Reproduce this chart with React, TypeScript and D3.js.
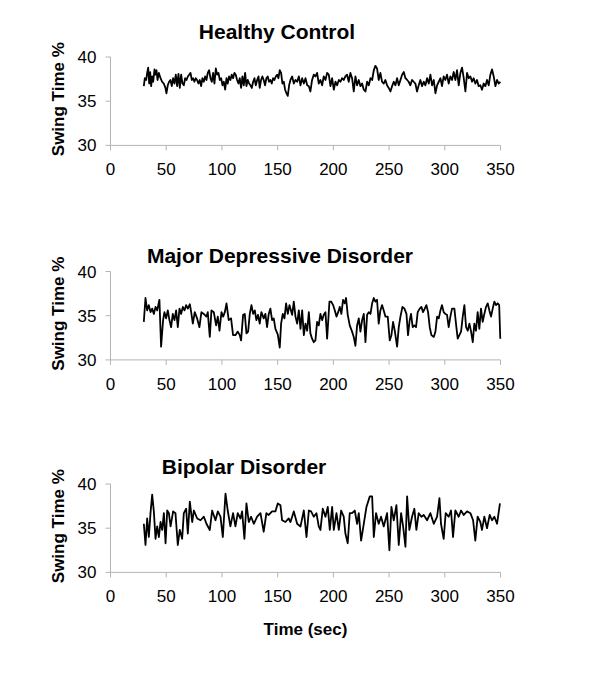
import React from "react";
import * as d3 from "d3";

// ---- data: [time (sec), swing time %] ----
const healthy: [number, number][] = [
  [29.9,36.7],[30.8,37.6],[32.0,37.4],[32.9,38.2],[33.8,38.8],[34.7,37.0],[35.6,38.3],[36.5,36.7],[37.4,37.8],[38.3,37.2],
  [39.5,38.6],[40.4,38.0],[41.3,38.5],[42.2,37.4],[43.4,38.2],[44.9,37.6],[46.3,37.2],[47.8,37.0],[49.3,36.5],[50.2,35.9],
  [51.4,36.8],[52.6,37.2],[53.8,37.4],[55.0,36.7],[56.2,37.6],[57.4,37.0],[58.6,38.0],[59.8,36.7],[61.0,38.1],[62.2,36.5],
  [63.4,38.0],[64.6,37.0],[65.8,36.8],[67.0,37.6],[68.2,37.4],[69.4,37.8],[70.6,38.0],[71.8,38.2],[73.0,37.4],[74.1,37.6],
  [75.3,37.2],[76.5,37.6],[77.7,37.4],[78.9,37.0],[80.1,37.4],[81.3,36.7],[82.5,37.6],[83.7,37.2],[84.9,37.8],[86.1,37.4],
  [87.3,38.2],[88.5,38.5],[89.7,37.6],[90.9,37.2],[92.1,38.2],[93.3,37.0],[94.5,38.7],[95.7,38.0],[96.9,38.2],[98.1,37.4],
  [99.3,37.6],[100.5,36.8],[101.7,37.2],[102.9,36.3],[104.1,37.6],[105.2,37.0],[106.4,37.8],[107.6,37.4],[108.8,38.0],[110.0,37.6],
  [111.2,38.2],[112.4,38.0],[113.6,37.4],[114.8,37.0],[116.0,37.6],[117.2,36.5],[118.4,37.8],[119.6,36.8],[120.8,38.2],[122.0,36.7],
  [123.2,37.4],[124.4,37.0],[125.6,36.8],[126.8,36.5],[128.0,37.2],[129.2,37.6],[130.4,36.8],[131.6,37.4],[132.8,37.8],[133.9,36.5],
  [135.1,37.4],[136.3,37.8],[137.5,37.4],[138.7,36.8],[139.9,37.6],[141.1,37.8],[142.3,37.2],[143.5,37.4],[144.7,37.0],[145.9,37.6],
  [147.1,37.4],[148.3,37.8],[149.5,38.0],[150.7,37.6],[151.9,38.5],[153.1,38.2],[154.3,37.0],[155.5,37.2],[156.7,36.3],[157.9,35.9],
  [159.1,35.6],[160.3,36.8],[161.5,37.4],[163.0,37.8],[164.5,37.0],[166.0,37.4],[167.5,37.2],[169.0,37.8],[170.5,36.8],[172.0,37.6],
  [173.5,37.0],[175.0,37.6],[176.5,36.8],[178.0,36.7],[179.4,36.1],[180.9,37.4],[182.4,38.0],[183.9,37.8],[185.4,38.2],[186.9,37.0],
  [188.4,37.4],[189.9,36.8],[191.4,37.8],[192.9,37.4],[194.4,38.2],[195.9,38.0],[197.4,36.7],[198.9,37.6],[200.4,36.3],[201.9,37.2],
  [203.4,36.8],[204.9,37.4],[206.4,37.2],[207.8,37.6],[209.3,37.4],[210.8,37.8],[212.3,38.0],[213.8,37.2],[215.3,38.2],[216.8,37.6],
  [218.3,36.1],[219.8,37.8],[221.3,36.8],[222.8,37.4],[224.3,36.7],[225.8,37.0],[227.3,36.3],[228.8,36.1],[230.3,37.2],[231.8,36.8],
  [233.3,37.6],[234.8,37.4],[236.3,38.5],[237.7,39.0],[239.2,38.7],[240.7,37.4],[242.2,38.2],[243.7,37.2],[245.2,37.0],[246.7,37.4],
  [248.2,36.8],[249.7,36.5],[251.2,36.1],[252.7,36.7],[254.2,37.2],[255.7,36.8],[257.2,37.6],[258.7,36.8],[260.2,37.4],[261.7,38.0],
  [263.2,38.3],[264.7,37.6],[266.2,37.4],[267.6,37.2],[269.1,36.8],[270.6,37.4],[272.1,37.2],[273.6,37.0],[275.1,36.1],[276.6,36.8],
  [278.1,37.4],[279.6,36.7],[281.1,37.2],[282.6,36.8],[284.1,37.6],[285.6,37.0],[287.1,38.0],[288.6,36.8],[290.1,37.4],[291.6,35.9],
  [293.1,36.8],[294.6,37.2],[296.1,37.6],[297.5,36.7],[299.0,37.8],[300.5,37.4],[302.0,38.0],[303.5,37.0],[305.0,37.8],[306.5,37.4],
  [308.0,38.3],[309.5,37.4],[311.0,38.5],[312.5,36.8],[314.0,38.2],[315.5,38.8],[317.0,37.6],[318.5,36.1],[320.0,38.2],[321.5,37.6],
  [323.0,37.8],[324.5,37.2],[325.9,37.6],[327.4,37.0],[328.9,37.4],[330.4,36.7],[331.9,36.8],[333.4,36.3],[334.9,37.0],[336.4,36.7],
  [337.9,37.4],[339.4,36.8],[340.9,38.0],[342.4,38.6],[343.9,37.8],[345.4,36.7],[346.9,37.4],[348.4,37.0],[349.9,37.2]
];

const depressive: [number, number][] = [
  [29.9,34.3],[31.4,37.0],[32.9,35.6],[34.4,36.2],[35.9,35.4],[37.4,35.8],[38.9,35.2],[40.4,36.0],[41.9,35.6],[43.9,36.8],
  [45.4,31.5],[47.2,34.5],[48.4,35.4],[49.9,34.7],[51.4,35.6],[52.9,34.5],[54.4,33.7],[55.9,35.2],[57.4,34.5],[58.9,35.6],
  [60.4,33.7],[61.9,35.8],[63.4,35.2],[64.9,36.0],[66.4,35.6],[67.9,36.2],[69.4,35.8],[71.2,36.3],[72.4,35.4],[73.9,34.1],
  [75.6,35.4],[77.7,34.7],[79.8,33.7],[81.6,35.4],[83.7,35.2],[86.1,34.9],[87.3,35.4],[89.1,32.6],[90.6,35.6],[92.7,35.4],
  [94.8,33.9],[96.3,34.9],[97.8,33.3],[99.6,35.4],[101.1,34.9],[102.6,35.4],[104.1,36.4],[106.1,34.5],[108.2,34.7],[110.0,32.8],
  [112.1,32.8],[114.2,33.2],[116.0,32.8],[117.2,32.2],[119.0,35.1],[120.5,35.2],[122.0,33.0],[123.5,33.2],[125.0,35.2],[126.5,36.2],
  [128.0,35.2],[129.5,35.6],[130.9,34.5],[132.4,35.1],[133.9,34.1],[135.4,35.4],[137.5,34.7],[139.0,35.2],[140.5,33.7],[142.0,35.2],
  [143.5,35.8],[145.0,34.5],[146.5,34.7],[148.0,33.5],[150.1,32.9],[151.9,31.4],[153.1,34.1],[154.6,35.2],[156.1,34.7],[157.6,36.4],
  [159.1,35.2],[160.6,36.2],[163.0,35.1],[164.5,36.6],[166.0,34.9],[167.5,34.1],[169.0,35.6],[170.5,33.5],[172.0,35.6],[173.5,32.8],
  [175.0,34.1],[176.5,33.3],[178.0,35.4],[179.4,33.0],[180.9,32.4],[182.4,32.0],[183.9,32.2],[185.4,34.3],[186.9,33.9],[188.4,35.2],
  [189.9,34.5],[191.4,35.1],[192.9,35.4],[194.4,32.4],[196.5,36.6],[198.0,36.6],[199.8,36.2],[201.3,35.6],[202.8,34.9],[204.3,35.4],
  [205.8,36.0],[207.2,35.2],[208.7,36.8],[210.2,36.4],[211.4,37.0],[212.9,35.1],[214.7,33.9],[216.8,33.2],[218.3,32.6],[219.8,31.6],
  [221.3,33.9],[222.8,34.7],[224.3,33.2],[225.8,34.5],[227.3,35.2],[228.8,32.0],[230.3,35.1],[231.8,35.4],[233.3,35.2],[234.8,36.4],
  [236.3,37.0],[237.7,36.6],[239.2,36.8],[240.7,34.1],[242.2,35.6],[243.7,36.2],[245.2,35.6],[246.7,34.9],[248.8,34.9],[250.6,32.2],
  [252.1,32.8],[253.6,34.3],[255.1,33.3],[257.2,31.5],[258.7,33.7],[260.2,34.9],[262.0,36.0],[263.8,35.8],[265.6,35.2],[267.0,32.8],
  [268.5,34.5],[269.7,35.2],[271.2,33.7],[272.7,33.9],[274.2,33.7],[275.7,35.4],[277.5,35.8],[279.0,36.0],[280.5,35.4],[282.0,35.8],
  [283.5,36.2],[285.0,35.4],[286.5,33.7],[288.0,32.8],[290.1,32.6],[291.6,33.2],[293.1,34.9],[294.6,34.7],[296.1,35.6],[297.5,36.2],
  [299.0,35.4],[300.5,35.2],[302.0,35.1],[303.5,33.7],[305.0,34.9],[306.5,35.8],[308.6,35.8],[310.4,33.7],[311.6,32.4],[313.1,32.8],
  [314.6,33.2],[316.1,34.9],[317.6,36.2],[319.1,33.7],[320.6,33.3],[322.1,34.1],[323.6,33.2],[325.1,32.0],[326.5,34.1],[328.0,33.3],
  [329.5,35.4],[331.0,33.5],[332.5,35.8],[334.0,34.3],[335.5,35.2],[337.0,36.0],[338.5,36.4],[340.0,35.6],[341.5,34.9],[343.0,35.8],
  [344.5,36.6],[346.0,36.2],[347.5,36.4],[348.8,36.2],[349.8,32.4]
];

const bipolar: [number, number][] = [
  [29.9,35.5],[31.4,33.1],[32.9,36.1],[34.4,34.0],[35.9,36.7],[37.4,38.8],[38.9,36.9],[40.4,33.8],[41.9,35.2],[43.4,34.0],
  [44.9,35.7],[46.4,34.8],[47.9,36.7],[49.4,33.3],[50.9,37.0],[52.4,36.7],[53.9,35.2],[56.2,36.9],[58.3,36.7],[60.4,33.1],
  [62.2,34.8],[64.3,33.8],[65.8,36.7],[67.9,37.2],[69.4,34.4],[71.2,38.0],[73.3,35.7],[74.8,37.0],[77.8,36.1],[80.8,35.9],
  [83.8,36.3],[86.1,35.5],[89.1,34.8],[91.2,37.0],[94.2,35.9],[96.3,36.9],[98.7,36.3],[100.8,34.0],[103.2,38.9],[105.2,37.0],
  [107.6,35.2],[110.0,36.7],[112.1,35.2],[114.2,36.7],[116.6,36.1],[118.1,36.9],[120.2,33.8],[122.0,37.8],[124.1,35.7],[126.2,36.3],
  [128.6,35.5],[131.6,36.3],[134.6,36.7],[137.5,34.6],[139.9,36.7],[142.0,36.5],[145.0,36.9],[148.0,36.9],[150.1,37.8],[152.5,37.6],
  [154.0,35.9],[157.0,35.7],[159.9,36.1],[161.5,35.7],[164.5,36.9],[167.5,35.5],[170.5,35.2],[173.5,37.0],[175.9,34.0],[178.0,37.0],
  [180.0,36.9],[182.4,36.3],[184.8,36.7],[186.9,35.2],[188.4,34.8],[190.5,37.2],[192.9,36.3],[195.0,37.4],[196.8,34.8],[198.9,37.4],
  [200.4,34.8],[202.8,36.7],[204.9,34.8],[207.0,37.0],[209.3,36.3],[210.8,34.4],[212.9,33.3],[214.7,36.7],[216.8,36.7],[219.2,37.0],
  [221.3,35.5],[222.8,36.7],[224.9,33.6],[227.3,35.5],[229.7,37.4],[232.7,38.6],[234.8,38.6],[236.3,34.0],[238.3,36.7],[240.7,35.5],
  [242.8,36.3],[245.2,35.2],[248.2,36.7],[250.3,32.5],[252.1,37.4],[254.2,35.9],[256.6,37.6],[258.7,33.1],[260.8,36.7],[262.6,35.2],
  [264.7,32.9],[266.2,38.6],[268.2,34.8],[270.6,36.3],[272.7,37.2],[274.5,34.8],[276.6,36.7],[279.0,36.3],[281.1,36.5],[284.1,35.9],
  [287.1,36.7],[290.1,35.5],[293.1,36.3],[295.2,38.4],[296.6,35.5],[299.0,33.8],[300.8,36.7],[303.5,36.3],[305.6,37.0],[307.4,34.0],
  [309.5,37.0],[312.5,36.3],[314.6,37.0],[317.0,36.5],[320.0,36.9],[323.0,36.7],[325.4,35.9],[327.4,33.6],[329.5,36.3],[331.9,35.7],
  [333.4,34.8],[335.5,36.3],[337.9,35.0],[340.3,36.5],[342.4,35.9],[344.5,36.3],[346.9,35.5],[349.5,37.8]
];

const panelTitles = ["Healthy Control", "Major Depressive Disorder", "Bipolar Disorder"];
const panelSeries = [healthy, depressive, bipolar];
const xTicks = [0, 50, 100, 150, 200, 250, 300, 350];
const yTicks = [30, 35, 40];
const yLabel = "Swing Time %";
const xLabel = "Time (sec)";

// ---- layout ----
const W = 600, H = 683;
const panelTops = [57, 271.5, 484];
const panelH = 88.4;
const titlePos = [
  { x: 277, y: 39 },
  { x: 280, y: 263 },
  { x: 244, y: 474 },
];
const FONT = "'Liberation Sans', Arial, Helvetica, sans-serif";
const AXIS = "#b4b4b4";

export default function App() {
  const x = d3.scaleLinear().domain([0, 350]).range([110.5, 500.5]);
  return (
    <svg width={W} height={H} style={{ position: "absolute", left: 0, top: 0, background: "#fff" }} fontFamily={FONT}>
      <rect width={W} height={H} fill="#fff" />
      {panelSeries.map((data, i) => {
        const top = panelTops[i];
        const y = d3.scaleLinear().domain([30, 40]).range([top + panelH, top]);
        const line = d3.line<[number, number]>().x(d => x(d[0])).y(d => y(d[1]));
        const y0 = y(30);
        return (
          <g key={i}>
            <text x={titlePos[i].x} y={titlePos[i].y} textAnchor="middle" fontSize={21} fontWeight="bold">{panelTitles[i]}</text>
            {/* y axis */}
            <line x1={x(0)} x2={x(0)} y1={y(40)} y2={y0} stroke={AXIS} strokeWidth={1} />
            {yTicks.map(t => (
              <g key={t}>
                <line x1={x(0) - 5} x2={x(0)} y1={y(t)} y2={y(t)} stroke={AXIS} strokeWidth={1} />
                <text x={x(0) - 14} y={y(t) + 6} textAnchor="end" fontSize={17}>{t}</text>
              </g>
            ))}
            {/* x axis */}
            <line x1={x(0)} x2={x(350)} y1={y0} y2={y0} stroke={AXIS} strokeWidth={1} />
            {xTicks.map(t => (
              <g key={t}>
                <line x1={x(t)} x2={x(t)} y1={y0} y2={y0 + 5} stroke={AXIS} strokeWidth={1} />
                <text x={x(t)} y={y0 + 30} textAnchor="middle" fontSize={17}>{t}</text>
              </g>
            ))}
            <text transform={`translate(64,${top + panelH / 2 - 2}) rotate(-90)`} textAnchor="middle" fontSize={17} fontWeight="bold">{yLabel}</text>
            <path d={line(data) || ""} fill="none" stroke="#000" strokeWidth={1.8} strokeLinejoin="round" />
          </g>
        );
      })}
      <text x={x(175)} y={635} textAnchor="middle" fontSize={17} fontWeight="bold">{xLabel}</text>
    </svg>
  );
}
